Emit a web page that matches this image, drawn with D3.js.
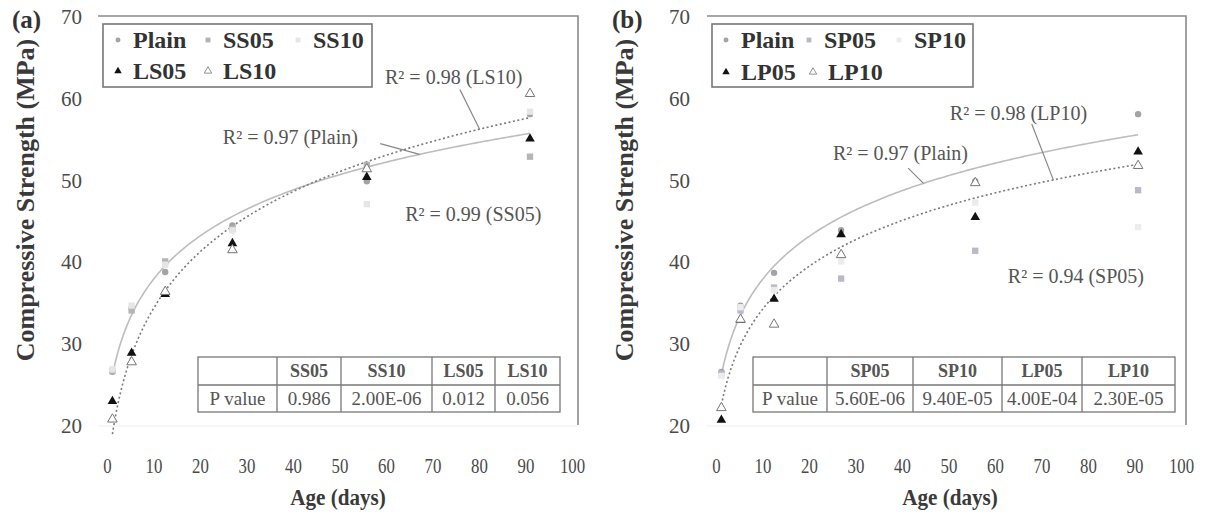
<!DOCTYPE html>
<html><head><meta charset="utf-8">
<script src="https://cdn.jsdelivr.net/npm/d3@7"></script>
<style>
body{margin:0;background:#fff;}
svg{display:block;font-family:"Liberation Serif","Times New Roman",serif;}
</style></head>
<body><svg id="c" width="1211" height="519"></svg>
<script>
// ---------- data ----------
const days = [3, 7, 14, 28, 56, 90];
const xTicks = [0,10,20,30,40,50,60,70,80,90,100];
const yTicks = [20,30,40,50,60,70];

// panel (a)
const plainA = [26.5, 34.3, 38.7, 44.4, 49.8, 58.0];
const ss05 = [26.6, 34.0, 40.0, 44.0, 51.8, 52.8];
const ss10 = [26.8, 34.6, 39.6, 43.8, 47.0, 58.3];
const ls05 = [22.9, 28.8, 36.0, 42.2, 50.3, 55.0];
const ls10 = [20.7, 27.7, 36.3, 41.4, 51.3, 60.5];
const tableHeadA = ["", "SS05", "SS10", "LS05", "LS10"];
const tableRowA = ["P value", "0.986", "2.00E-06", "0.012", "0.056"];

// panel (b)
const plainB = [26.5, 34.6, 38.6, 43.8, 49.8, 58.0];
const sp05 = [26.3, 34.0, 36.8, 37.9, 41.3, 48.7];
const sp10 = [26.0, 34.4, 36.5, 40.0, 47.2, 44.2];
const lp05 = [20.6, 32.8, 35.4, 43.3, 45.4, 53.4];
const lp10 = [22.1, 32.9, 32.3, 40.8, 49.6, 51.7];
const tableHeadB = ["", "SP05", "SP10", "LP05", "LP10"];
const tableRowB = ["P value", "5.60E-06", "9.40E-05", "4.00E-04", "2.30E-05"];

// ---------- styles ----------
const styles = {
  plain: {sym: d3.symbolCircle, size: 32, fill: "#a3a3a3", stroke: "none"},
  s05:   {sym: d3.symbolSquare, size: 40, fill: "#b5b5b5", stroke: "none"},
  s10:   {sym: d3.symbolSquare, size: 40, fill: "#e6e6e6", stroke: "none"},
  l05:   {sym: d3.symbolTriangle, size: 40, fill: "#111", stroke: "none"},
  l10:   {sym: d3.symbolTriangle, size: 40, fill: "#fff", stroke: "#777"}
};

const svg = d3.select("#c");
svg.append("rect").attr("width",1211).attr("height",519).attr("fill","#fff");

function logFit(xs, ys){
  const lx = xs.map(Math.log);
  const mx = d3.mean(lx), my = d3.mean(ys);
  let sxy=0, sxx=0;
  lx.forEach((v,i)=>{ sxy += (v-mx)*(ys[i]-my); sxx += (v-mx)*(v-mx); });
  const a = sxy/sxx, b = my - a*mx;
  return x => a*Math.log(x) + b;
}

function panel(cfg){
  const g = svg.append("g");
  const x = d3.scaleLinear([0,100], cfg.xRange);
  const xl = d3.scaleLinear([0,100], cfg.xLabelRange);
  const y = d3.scaleLinear([20,70], [425,16]);

  // frame (top + right)
  g.append("path")
    .attr("d", `M${x(0)},${y(70)}H${x(100)}V${y(20)}`)
    .attr("fill","none").attr("stroke","#8a8a8a").attr("stroke-width",1.6);
  g.append("line").attr("x1",x(0)).attr("x2",x(100)).attr("y1",y(20)+1).attr("y2",y(20)+1)
    .attr("stroke","#eee").attr("stroke-width",1);

  // y axis labels
  const ya = g.append("g").attr("transform",`translate(${cfg.yAxisX},0)`)
    .call(d3.axisLeft(y).tickValues(yTicks).tickSize(0).tickPadding(0));
  ya.select(".domain").remove();
  ya.selectAll("text").attr("font-size",21).attr("fill","#4a4a4a")
    .attr("font-family","Liberation Serif").attr("dy","0.36em");

  // x axis labels
  const xa = g.append("g").attr("transform",`translate(0,458)`)
    .call(d3.axisBottom(xl).tickValues(xTicks).tickSize(0).tickPadding(0));
  xa.select(".domain").remove();
  xa.selectAll("text").attr("font-size",21).attr("fill","#4a4a4a")
    .attr("font-family","Liberation Serif").attr("dy","0.71em")
    .attr("transform","scale(0.8,1)");

  // titles
  g.append("text").attr("transform",`translate(${cfg.yTitleX},200) rotate(-90)`)
    .attr("text-anchor","middle").attr("font-weight","bold").attr("font-size",26)
    .attr("fill","#3a3a3a").text("Compressive Strength (MPa)");
  g.append("text").attr("x",cfg.panelLabelX).attr("y",28).attr("font-weight","bold")
    .attr("font-size",25).attr("fill","#333").text(cfg.panelLabel);
  g.append("text").attr("x",cfg.xTitleX).attr("y",505).attr("text-anchor","middle")
    .attr("font-weight","bold").attr("font-size",24).attr("fill","#3a3a3a")
    .attr("transform",`translate(${cfg.xTitleX*0.12},0) scale(0.88,1)`)
    .text("Age (days)");

  // table
  const tb = g.append("g");
  const cols = cfg.tableCols, rowsY = [357,385,412];
  tb.append("rect").attr("x",cols[0]).attr("y",rowsY[0]).attr("width",cols[cols.length-1]-cols[0])
    .attr("height",rowsY[2]-rowsY[0]).attr("fill","#fff").attr("stroke","#777").attr("stroke-width",1.3);
  tb.append("line").attr("x1",cols[0]).attr("x2",cols[cols.length-1]).attr("y1",rowsY[1]).attr("y2",rowsY[1])
    .attr("stroke","#777").attr("stroke-width",1.3);
  cols.slice(1,-1).forEach(c=>tb.append("line").attr("x1",c).attr("x2",c).attr("y1",rowsY[0]).attr("y2",rowsY[2])
    .attr("stroke","#777").attr("stroke-width",1.3));
  cfg.tableHead.forEach((t,i)=>tb.append("text").attr("x",(cols[i]+cols[i+1])/2).attr("y",377)
    .attr("text-anchor","middle").attr("font-weight","bold").attr("font-size",18).attr("fill","#555").text(t));
  cfg.tableRow.forEach((t,i)=>tb.append("text").attr("x",(cols[i]+cols[i+1])/2).attr("y",405)
    .attr("text-anchor","middle").attr("font-size",19).attr("fill","#555").text(t));

  // trend lines
  const xsFit = d3.range(3, 90.01, 0.5);
  cfg.fits.forEach(f=>{
    const fn = logFit(days, f.values);
    g.append("path").datum(xsFit)
      .attr("d", d3.line().x(d=>x(d)).y(d=>y(fn(d))))
      .attr("fill","none").attr("stroke",f.color).attr("stroke-width",1.6)
      .attr("stroke-dasharray",f.dash||null);
  });

  // points
  cfg.series.forEach(s=>{
    const st = s.style;
    g.append("g").selectAll("path").data(s.values).join("path")
      .attr("transform",(d,i)=>`translate(${x(days[i])},${y(d)})`)
      .attr("d", d3.symbol(st.sym, st.size)())
      .attr("fill", s.fill || st.fill).attr("stroke", st.stroke).attr("stroke-width",1);
  });

  // annotations
  cfg.notes.forEach(n=>{
    g.append("text").attr("x",x(n.tx)).attr("y",y(n.ty)).attr("font-size",20).attr("fill","#555")
      .text(n.text);
    if(n.lx!==undefined){
      const fn = logFit(days, n.fitValues);
      g.append("line").attr("x1",x(n.lx)).attr("y1",y(n.ly)).attr("x2",x(n.ex)).attr("y2",y(fn(n.ex)))
        .attr("stroke","#888").attr("stroke-width",1.2);
    }
  });

  // legend
  const lg = g.append("g");
  lg.append("rect").attr("x",cfg.legend.x).attr("y",24).attr("width",cfg.legend.w).attr("height",63)
    .attr("fill","#fff").attr("stroke","#777").attr("stroke-width",1.6);
  cfg.series.forEach((s,i)=>{
    const pos = cfg.legend.items[i];
    const st = s.style;
    lg.append("path").attr("transform",`translate(${pos[0]},${pos[1]})`)
      .attr("d", d3.symbol(st.sym, st.size*0.6)())
      .attr("fill", s.fill || st.fill).attr("stroke", st.stroke).attr("stroke-width",0.8);
    lg.append("text").attr("x",pos[0]+15).attr("y",pos[1]+8).attr("font-weight","bold")
      .attr("font-size",24).attr("fill","#333").text(s.name);
  });
}

panel({
  xRange:[98,578], xLabelRange:[107,572], yAxisX:82, yTitleX:34, panelLabel:"(a)", panelLabelX:12, xTitleX:338,
  tableCols:[198,277,341,432,495,560], tableHead: tableHeadA, tableRow: tableRowA,
  fits:[{values: plainA, color:"#bdbdbd"}, {values: ls10, color:"#7a7a7a", dash:"2,2.5"}],
  series:[
    {name:"Plain", values: plainA, style: styles.plain},
    {name:"SS05", values: ss05, style: styles.s05},
    {name:"SS10", values: ss10, style: styles.s10},
    {name:"LS05", values: ls05, style: styles.l05},
    {name:"LS10", values: ls10, style: styles.l10}
  ],
  legend:{x:103, w:269, items:[[118,40],[208,40],[298,40],[118,71],[208,71]]},
  notes:[
    {text:"R² = 0.98 (LS10)", tx:59.8, ty:61.7, lx:75.4, ly:61.0, ex:79.5, fitValues: ls10},
    {text:"R² = 0.97 (Plain)", tx:26.0, ty:54.3, lx:58.8, ly:54.4, ex:67, fitValues: plainA},
    {text:"R² = 0.99 (SS05)", tx:64.0, ty:45.0}
  ]
});

panel({
  xRange:[707,1186], xLabelRange:[716,1181], yAxisX:690, yTitleX:633, panelLabel:"(b)", panelLabelX:612, xTitleX:950,
  tableCols:[753,827,913,1002,1082,1175], tableHead: tableHeadB, tableRow: tableRowB,
  fits:[{values: plainB, color:"#bdbdbd"}, {values: lp10, color:"#7a7a7a", dash:"2,2.5"}],
  series:[
    {name:"Plain", values: plainB, style: styles.plain},
    {name:"SP05", values: sp05, style: styles.s05, fill:"#b9b9c9"},
    {name:"SP10", values: sp10, style: styles.s10, fill:"#ececf0"},
    {name:"LP05", values: lp05, style: styles.l05},
    {name:"LP10", values: lp10, style: styles.l10}
  ],
  legend:{x:712, w:261, items:[[726,40],[809,40],[899,40],[726,72],[813,72]]},
  notes:[
    {text:"R² = 0.98 (LP10)", tx:50.7, ty:57.3, lx:67.8, ly:56.8, ex:72.3, fitValues: lp10},
    {text:"R² = 0.97 (Plain)", tx:26.3, ty:52.4, lx:42.0, ly:51.4, ex:45.2, fitValues: plainB},
    {text:"R² = 0.94 (SP05)", tx:62.8, ty:37.4}
  ]
});
</script></body></html>
